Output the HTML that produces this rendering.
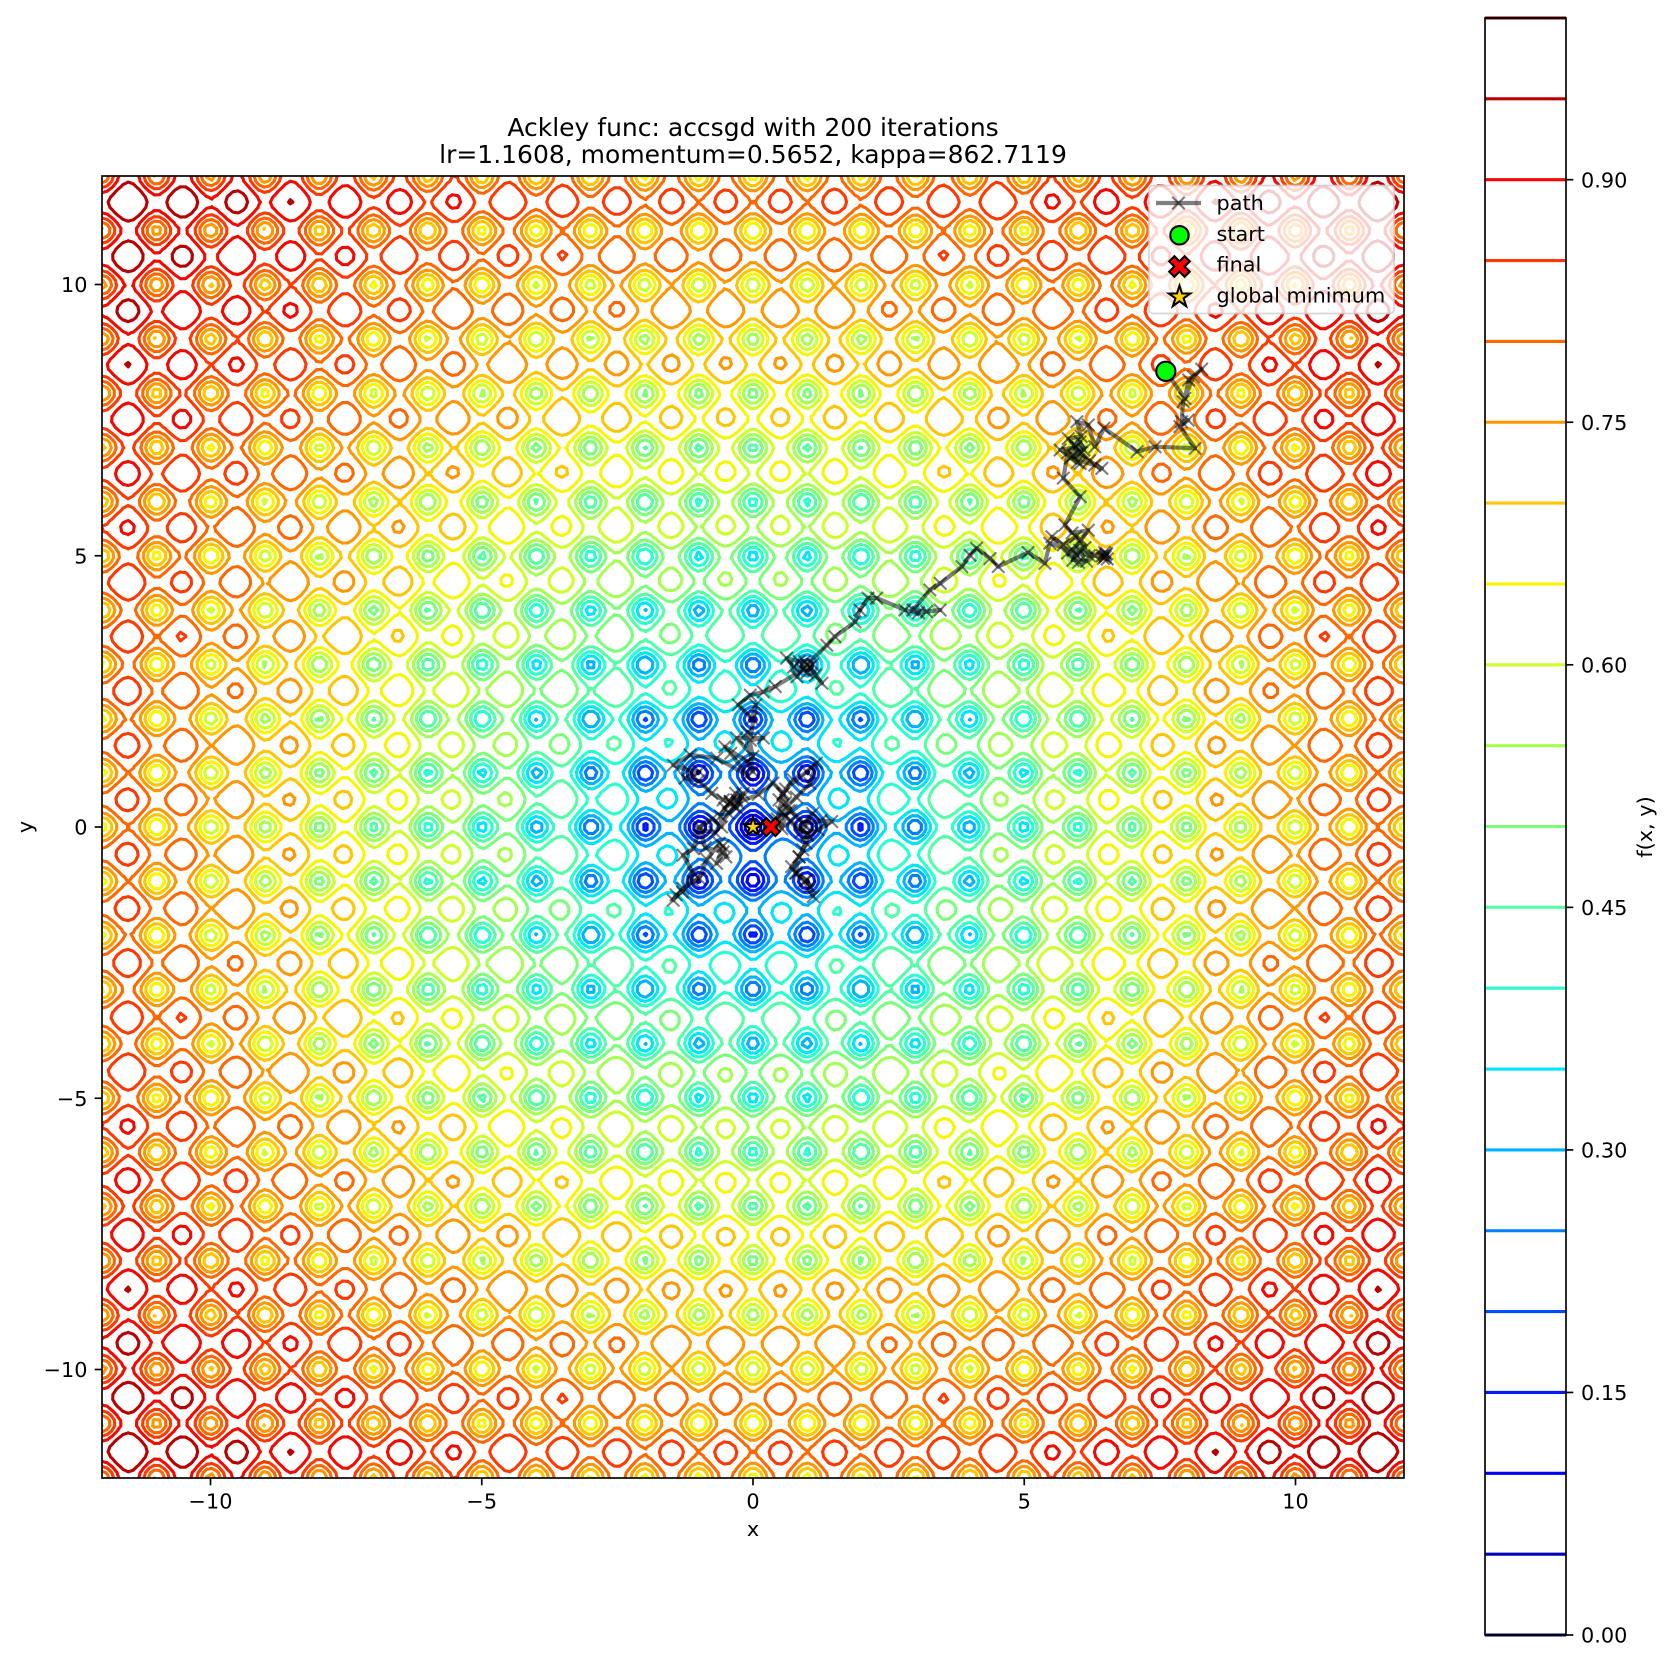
<!DOCTYPE html>
<html>
<head>
<meta charset="utf-8">
<title>Ackley func: accsgd with 200 iterations</title>
<style>
html,body{margin:0;padding:0;background:#fff;}
svg{display:block;}
text{font-family:"DejaVu Sans","Liberation Sans",sans-serif;fill:#000;}
</style>
</head>
<body>
<svg id="fig" xmlns="http://www.w3.org/2000/svg" width="1670" height="1662" viewBox="0 0 1670 1662">
  <defs><clipPath id="axclip"><rect x="102" y="176" width="1302" height="1302"/></clipPath></defs>
  <rect x="0" y="0" width="1670" height="1662" fill="#fff"/>
  <g id="contours" clip-path="url(#axclip)"></g>
  <g id="pathLayer" clip-path="url(#axclip)"></g>
  <g id="markers" clip-path="url(#axclip)"></g>
  <rect x="102" y="176" width="1302" height="1302" fill="none" stroke="#000" stroke-width="1.67"/>
  <g id="axisTicks"></g>
  <text x="753" y="136" font-size="25" text-anchor="middle">Ackley func: accsgd with 200 iterations</text>
  <text x="753" y="163" font-size="25" text-anchor="middle">lr=1.1608, momentum=0.5652, kappa=862.7119</text>
  <text x="753" y="1536" font-size="20.8" text-anchor="middle">x</text>
  <text transform="translate(32,827) rotate(-90)" font-size="20.8" text-anchor="middle">y</text>
  <g id="legend">
    <rect x="1149" y="185.5" width="245" height="128" rx="4" ry="4" fill="#fff" fill-opacity="0.8" stroke="#ccc" stroke-opacity="0.8" stroke-width="1.67"/>
    <g id="legendHandles"></g>
    <text x="1216.5" y="210" font-size="20.8">path</text>
    <text x="1216.5" y="241" font-size="20.8">start</text>
    <text x="1216.5" y="271.7" font-size="20.8">final</text>
    <text x="1216.5" y="302.4" font-size="20.8">global minimum</text>
  </g>
  <g id="colorbar"></g>
  <text transform="translate(1652,827) rotate(-90)" font-size="20.8" text-anchor="middle">f(x, y)</text>
</svg>
<script>
var levels = [0,0.05,0.1,0.15,0.2,0.25,0.3,0.35,0.4,0.45,0.5,0.55,0.6,0.65,0.7,0.75,0.8,0.85,0.9,0.95,1];
var axisTicks = [-10,-5,0,5,10];
var colorbarTicks = [0,0.15,0.3,0.45,0.6,0.75,0.9];
var gridCount = 250;
var domain = [-12,12];
var globalMin = [0,0];
var trendAmplitude = 1.03;
var trendRate = 0.08;
var rippleAmplitude = 0.25;
var pathX = [7.61,7.96,8.03,8.27,8.12,7.93,7.90,8.02,7.87,8.15,7.41,7.08,6.47,6.30,6.18,5.97,6.05,5.81,5.95,5.66,5.90,6.03,6.10,5.92,6.03,6.00,5.85,6.30,6.43,6.20,6.05,5.98,5.80,5.72,6.03,5.75,5.88,6.18,6.05,5.90,6.12,5.95,5.72,5.51,5.80,5.97,6.00,6.15,5.90,6.02,6.30,6.49,6.52,6.46,6.50,6.44,6.53,6.48,6.20,5.47,5.38,5.07,4.52,4.37,4.12,4.00,3.85,3.45,3.26,2.95,3.20,3.45,3.05,2.80,2.28,2.12,1.97,1.88,1.51,1.36,0.99,1.00,1.15,1.27,1.05,0.85,0.62,0.75,0.81,0.95,1.10,0.92,0.41,0.19,-0.05,-0.27,-0.02,0.05,-0.05,0.19,-0.30,0.00,-0.10,0.00,-0.10,-0.52,-0.41,-0.10,-0.67,-1.16,-1.47,-1.20,-0.99,-1.25,-1.00,-0.76,-0.55,-0.42,-0.42,-0.30,-0.18,-0.30,-0.52,-0.60,-0.58,-0.75,-0.99,-0.88,-0.55,-0.67,-0.55,-0.50,-0.62,-0.85,-0.99,-1.10,-1.29,-1.47,-1.42,-1.30,-1.10,-1.29,-1.10,-0.99,-0.70,-0.45,-0.35,-0.20,-0.32,-0.42,-0.28,0.10,0.37,0.56,0.48,0.74,0.60,0.99,1.17,1.05,0.80,0.53,0.60,0.45,0.55,0.70,0.96,1.10,0.92,1.25,1.45,1.20,1.00,0.92,0.85,0.71,0.80,0.99,1.05,1.11,0.95,0.78,0.85,0.98,1.00,0.70,0.88,0.60,0.53,0.42,0.66,0.33];
var pathY = [8.40,7.90,8.24,8.44,8.30,7.84,7.47,7.50,7.38,6.98,7.01,6.92,7.35,7.01,7.41,7.47,7.20,7.16,7.00,6.95,6.85,7.10,6.95,7.05,6.70,6.90,6.80,6.67,6.61,6.75,6.90,6.72,6.90,6.43,6.09,5.57,5.42,5.47,5.30,5.10,5.15,5.35,5.20,5.35,5.05,5.01,4.88,4.90,4.92,5.10,5.00,4.98,5.04,4.95,5.02,5.00,4.94,5.06,5.00,5.23,4.86,5.06,4.80,4.95,5.14,5.01,4.80,4.49,4.37,4.00,3.97,4.00,3.95,4.00,4.22,4.22,4.00,3.78,3.51,3.35,2.99,2.85,2.80,2.65,2.95,3.05,3.11,2.95,2.77,3.05,3.00,2.90,2.59,2.49,2.43,2.25,2.00,2.25,1.60,1.64,1.64,1.30,1.75,1.02,1.20,1.48,1.36,0.95,1.27,1.33,1.14,1.05,1.02,0.90,0.85,0.62,0.50,0.44,0.47,0.35,0.62,0.50,0.35,0.20,0.00,0.15,0.00,-0.38,-0.46,-0.67,-0.35,-0.55,-0.30,-0.60,-0.95,-1.00,-1.13,-1.35,-1.25,-1.20,-0.85,-0.52,-0.40,-0.05,-0.10,0.25,0.38,0.55,0.62,0.47,0.45,0.60,0.81,0.62,0.50,0.87,0.70,1.02,1.18,0.80,0.55,0.28,0.45,0.15,0.60,0.30,0.04,0.25,0.05,0.12,0.10,-0.05,-0.15,-0.42,-0.55,-0.73,-0.85,-0.98,-1.10,-1.28,-1.00,-0.85,-0.55,-0.30,-0.12,0.10,-0.10,0.20,-0.03,0.12,0.30,0.00];

var SVGNS = 'http://www.w3.org/2000/svg';
var AX = {left:102, top:176, size:1302};
function sx(v){ return AX.left + (v - domain[0]) / (domain[1] - domain[0]) * AX.size; }
function sy(v){ return AX.top + AX.size - (v - domain[0]) / (domain[1] - domain[0]) * AX.size; }
var CB = {left:1485, right:1566, top:18, bottom:1635};
function cy(v){ return CB.bottom - v * (CB.bottom - CB.top); }
function lerpStops(stops, t){
  for (var i = 1; i < stops.length; i++) {
    if (t <= stops[i][0]) {
      var a = stops[i-1], b = stops[i];
      return a[1] + (b[1]-a[1]) * (t-a[0]) / (b[0]-a[0]);
    }
  }
  return stops[stops.length-1][1];
}
var jetR = [[0,0],[0.35,0],[0.66,1],[0.89,1],[1,0.5]];
var jetG = [[0,0],[0.125,0],[0.375,1],[0.64,1],[0.91,0],[1,0]];
var jetB = [[0,0.5],[0.11,1],[0.34,1],[0.65,0],[1,0]];
function jet(t){
  return 'rgb(' + Math.round(255*lerpStops(jetR,t)) + ',' + Math.round(255*lerpStops(jetG,t)) + ',' + Math.round(255*lerpStops(jetB,t)) + ')';
}
function mk(tag, attrs, parent){
  var el = document.createElementNS(SVGNS, tag);
  for (var k in attrs) el.setAttribute(k, attrs[k]);
  parent.appendChild(el);
  return el;
}
function ackley(x, y){
  var rho = Math.sqrt(x*x + y*y);
  var trend = trendAmplitude * (1 - Math.exp(-trendRate*rho));
  var ripple = (Math.E - Math.exp(0.5*(Math.cos(2*Math.PI*x)+Math.cos(2*Math.PI*y)))) / (Math.E - 1/Math.E);
  return trend + rippleAmplitude*ripple;
}

/* contour grid */
var n = gridCount, gx = [], Z = new Float64Array(n*n), zmin = Infinity, zmax = -Infinity;
for (var i = 0; i < n; i++) gx.push(domain[0] + (domain[1]-domain[0]) * i / (n-1));
for (var j = 0; j < n; j++) for (var i2 = 0; i2 < n; i2++) {
  var z = ackley(gx[i2], gx[j]);
  Z[j*n+i2] = z;
  if (z < zmin) zmin = z;
  if (z > zmax) zmax = z;
}
for (var q = 0; q < Z.length; q++) Z[q] = (Z[q]-zmin)/(zmax-zmin);

function contourPath(level){
  var parts = [];
  var px = sx(gx[0]), step = sx(gx[1]) - sx(gx[0]);
  var py0 = sy(gx[0]), stepY = sy(gx[1]) - sy(gx[0]);
  for (var j = 0; j < n-1; j++) {
    for (var i = 0; i < n-1; i++) {
      var a = Z[j*n+i], b = Z[j*n+i+1], c = Z[(j+1)*n+i+1], d = Z[(j+1)*n+i];
      var code = (a>level?1:0) | (b>level?2:0) | (c>level?4:0) | (d>level?8:0);
      if (code === 0 || code === 15) continue;
      var X = px + i*step, Y = py0 + j*stepY;
      var e = function(k){
        if (k === 0) return [X + step*(level-a)/(b-a), Y];
        if (k === 1) return [X + step, Y + stepY*(level-b)/(c-b)];
        if (k === 2) return [X + step*(level-d)/(c-d), Y + stepY];
        return [X, Y + stepY*(level-a)/(d-a)];
      };
      var pairs;
      switch (code) {
        case 1: case 14: pairs = [[3,0]]; break;
        case 2: case 13: pairs = [[0,1]]; break;
        case 3: case 12: pairs = [[3,1]]; break;
        case 4: case 11: pairs = [[1,2]]; break;
        case 6: case 9: pairs = [[0,2]]; break;
        case 7: case 8: pairs = [[3,2]]; break;
        case 5: pairs = ((a+b+c+d)/4 > level) ? [[3,2],[0,1]] : [[3,0],[1,2]]; break;
        case 10: pairs = ((a+b+c+d)/4 > level) ? [[3,0],[1,2]] : [[3,2],[0,1]]; break;
      }
      for (var p = 0; p < pairs.length; p++) {
        var u = e(pairs[p][0]), w = e(pairs[p][1]);
        parts.push('M' + u[0].toFixed(2) + ' ' + u[1].toFixed(2) + 'L' + w[0].toFixed(2) + ' ' + w[1].toFixed(2));
      }
    }
  }
  return parts.join('');
}
var contourGroup = document.getElementById('contours');
levels.forEach(function(lv){
  var d = contourPath(lv);
  if (!d) return;
  var el = mk('path', {d:d, fill:'none', stroke:jet(lv), 'stroke-width':'3.1', 'stroke-linecap':'round', 'stroke-linejoin':'round'}, contourGroup);
  
  
});

/* optimizer path */
var pathLayer = document.getElementById('pathLayer');
var lineD = pathX.map(function(v,i){ return (i?'L':'M') + sx(v).toFixed(2) + ' ' + sy(pathY[i]).toFixed(2); }).join('');
var pathLine = mk('path', {d:lineD, fill:'none', stroke:'#000', 'stroke-opacity':'0.5', 'stroke-width':'4.17', 'stroke-linejoin':'round', 'stroke-linecap':'butt'}, pathLayer);


function crossD(x, y, r){
  return 'M'+(x-r)+' '+(y-r)+'L'+(x+r)+' '+(y+r)+'M'+(x-r)+' '+(y+r)+'L'+(x+r)+' '+(y-r);
}
pathX.forEach(function(v,i){
  var m = mk('path', {d:crossD(sx(v), sy(pathY[i]), 6.25), fill:'none', stroke:'#000', 'stroke-opacity':'0.5', 'stroke-width':'2.08'}, pathLayer);
  
  
});

/* marker shapes */
function xPoly(cx, cy, size){
  var v = [[-1,-2],[0,-1],[1,-2],[2,-1],[1,0],[2,1],[1,2],[0,1],[-1,2],[-2,1],[-1,0],[-2,-1]];
  return v.map(function(p){ return (cx+p[0]*size/4).toFixed(2)+','+(cy+p[1]*size/4).toFixed(2); }).join(' ');
}
function starPoly(cx, cy, R){
  var out = [];
  for (var i = 0; i < 10; i++) {
    var r = i%2 ? R*0.381966 : R, t = -Math.PI/2 + i*Math.PI/5;
    out.push((cx+r*Math.cos(t)).toFixed(2)+','+(cy+r*Math.sin(t)).toFixed(2));
  }
  return out.join(' ');
}
var markerGroup = document.getElementById('markers');
var startMarker = mk('circle', {cx:sx(pathX[0]), cy:sy(pathY[0]), r:9.6, fill:'#00ff00', stroke:'#000', 'stroke-width':'2.08'}, markerGroup);


var finalMarker = mk('polygon', {points:xPoly(sx(pathX[pathX.length-1]), sy(pathY[pathY.length-1]), 18), fill:'#ff0000', stroke:'#000', 'stroke-width':'2.08', 'stroke-linejoin':'miter'}, markerGroup);


var starMarker = mk('polygon', {points:starPoly(sx(globalMin[0]), sy(globalMin[1]), 10), fill:'#ffd700', stroke:'#000', 'stroke-width':'2.08', 'stroke-linejoin':'miter'}, markerGroup);



/* axis ticks */
var tickGroup = document.getElementById('axisTicks');
function fmt(v){ return (v<0 ? '\u2212' : '') + Math.abs(v); }
axisTicks.forEach(function(v){
  var t1 = mk('line', {x1:sx(v), x2:sx(v), y1:1478, y2:1485.3, stroke:'#000', 'stroke-width':'1.67'}, tickGroup);
  
  
  var l1 = mk('text', {x:sx(v), y:1508.3, 'font-size':'20.8', 'text-anchor':'middle'}, tickGroup);
  l1.textContent = fmt(v);
  
  
  var t2 = mk('line', {x1:94.7, x2:102, y1:sy(v), y2:sy(v), stroke:'#000', 'stroke-width':'1.67'}, tickGroup);
  
  
  var l2 = mk('text', {x:87.5, y:sy(v)+7.6, 'font-size':'20.8', 'text-anchor':'end'}, tickGroup);
  l2.textContent = fmt(v);
  
  
});

/* colorbar */
var cbGroup = document.getElementById('colorbar');
levels.forEach(function(lv){
  var l = mk('line', {x1:CB.left, x2:CB.right, y1:cy(lv), y2:cy(lv), stroke:jet(lv), 'stroke-width':'3.1'}, cbGroup);
  
  
});
var cbFrame = mk('rect', {x:CB.left, y:CB.top, width:CB.right-CB.left, height:CB.bottom-CB.top, fill:'none', stroke:'#000', 'stroke-width':'1.67'}, cbGroup);


colorbarTicks.forEach(function(v){
  var t = mk('line', {x1:CB.right, x2:CB.right+7.3, y1:cy(v), y2:cy(v), stroke:'#000', 'stroke-width':'1.67'}, cbGroup);
  
  
  var l = mk('text', {x:1581, y:cy(v)+7.6, 'font-size':'20.8'}, cbGroup);
  l.textContent = v.toFixed(2);
  
  
});

/* legend handles */
var lh = document.getElementById('legendHandles');
var lhLine = mk('line', {x1:1156, x2:1201, y1:203, y2:203, stroke:'#000', 'stroke-opacity':'0.5', 'stroke-width':'4.17'}, lh);


var lhCross = mk('path', {d:crossD(1178.5, 203, 6.25), fill:'none', stroke:'#000', 'stroke-opacity':'0.5', 'stroke-width':'2.08'}, lh);


var lhStart = mk('circle', {cx:1179.5, cy:235.3, r:9.2, fill:'#00ff00', stroke:'#000', 'stroke-width':'2.08'}, lh);


var lhFinal = mk('polygon', {points:xPoly(1179.5, 266.5, 20.5), fill:'#ff0000', stroke:'#000', 'stroke-width':'2.08'}, lh);


var lhStar = mk('polygon', {points:starPoly(1179.5, 297, 11.3), fill:'#ffd700', stroke:'#000', 'stroke-width':'2.08'}, lh);


</script>
</body>
</html>
